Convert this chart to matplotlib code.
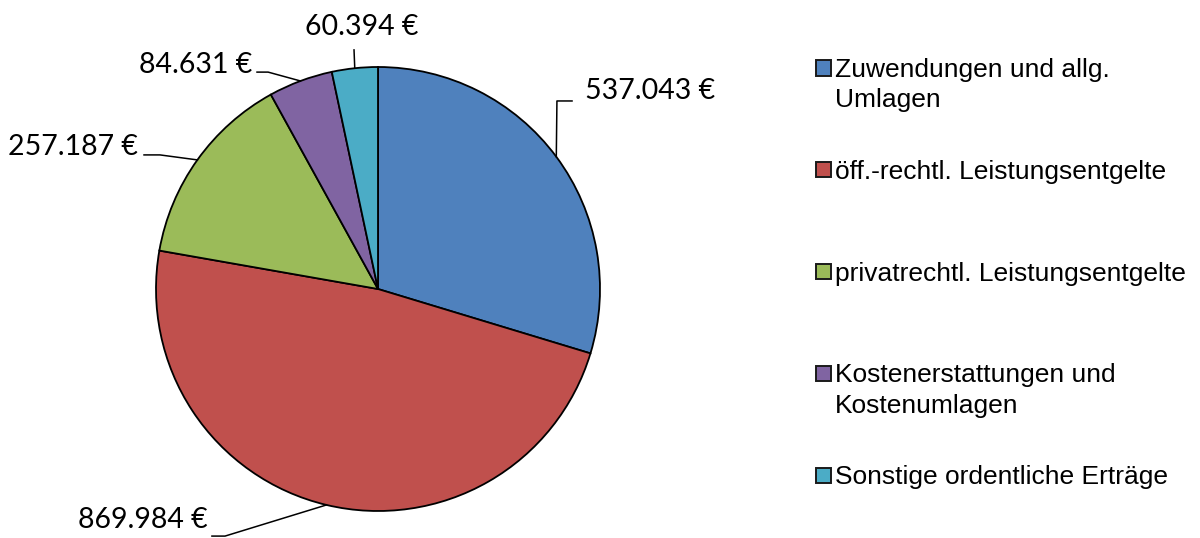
import numpy as np
import matplotlib.pyplot as plt
from matplotlib.patches import Rectangle

# ==============================
# DATA
# ==============================
categories = ["Zuwendungen und allg.\nUmlagen",
              "öff.-rechtl. Leistungsentgelte",
              "privatrechtl. Leistungsentgelte",
              "Kostenerstattungen und\nKostenumlagen",
              "Sonstige ordentliche Erträge"]
values = [537043, 869984, 257187, 84631, 60394]
colors = ["#4F81BD", "#C0504D", "#9BBB59", "#8064A2", "#4BACC6"]

# label layout (pie radius units): elbow, line end, text anchor, alignment
elbows = [(0.806, 0.847), (-0.689, -1.113), (-0.982, 0.604), (-0.495, 0.977), (-0.108, 1.077)]
ends = [(0.874, 0.847), (-0.748, -1.113), (-1.054, 0.604), (-0.545, 0.977), (-0.108, 1.077)]
texts = [(0.932, 0.89), (-0.766, -1.04), (-1.081, 0.64), (-0.568, 1.01), (-0.072, 1.18)]
aligns = ["left", "right", "right", "right", "center"]

W, H = 1200, 538

# ==============================
# PLOT
# ==============================
fig = plt.figure(figsize=(W / 100, H / 100), dpi=100)
ax = fig.add_axes([156 / W, 27 / H, 444 / W, 444 / H])

wedges, _ = ax.pie(values, colors=colors, startangle=90, counterclock=False,
                   radius=1, wedgeprops=dict(edgecolor="black", linewidth=1.3))
ax.set_xlim(-1, 1)
ax.set_ylim(-1, 1)
ax.set_aspect("equal")
ax.axis("off")

# data labels with leader lines
for w, v, el, en, tx, ha in zip(wedges, values, elbows, ends, texts, aligns):
    mid = np.deg2rad((w.theta1 + w.theta2) / 2)
    p = (np.cos(mid), np.sin(mid))
    ax.plot([p[0], el[0], en[0]], [p[1], el[1], en[1]], color="black",
            linewidth=1.1, clip_on=False)
    label = f"{v:,}".replace(",", ".") + " €"
    ax.text(tx[0], tx[1], label, ha=ha, va="center", fontsize=20.5,
            family="Lato", color="black")

# legend (Excel style)
for i, (cat, col) in enumerate(zip(categories, colors)):
    yc = 68 + i * 101.75
    fig.add_artist(Rectangle((816 / W, 1 - (yc + 7.5) / H), 15 / W, 15 / H,
                             facecolor=col, edgecolor="#1a1a1a", linewidth=1.4,
                             transform=fig.transFigure))
    for j, line in enumerate(cat.split("\n")):
        fig.text(835 / W, 1 - (yc + 2 + j * 30.5) / H, line, ha="left", va="center",
                 fontsize=19, family="Liberation Sans", color="black")

# ==============================
# SAVE
# ==============================
fig.savefig("out.png", dpi=100)
